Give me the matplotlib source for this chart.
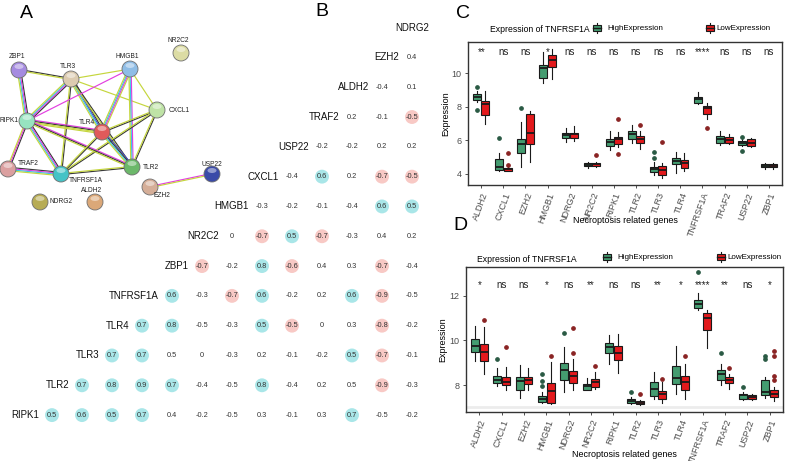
import matplotlib
matplotlib.use('Agg')
import matplotlib.pyplot as plt
from matplotlib.patches import Circle, Ellipse, Rectangle
import numpy as np

plt.rcParams['font.family'] = ['Liberation Sans', 'DejaVu Sans']

W, H = 786, 461

# ---------------- A: STRING network ----------------
node_names = ['ZBP1', 'TLR3', 'HMGB1', 'NR2C2', 'CXCL1', 'RIPK1', 'TLR4', 'TLR2',
              'TRAF2', 'TNFRSF1A', 'NDRG2', 'ALDH2', 'EZH2', 'USP22']
node_x = [19, 71, 130, 181, 157, 27, 102, 132, 8, 61, 40, 95, 150, 212]
node_y = [70, 79, 69, 53, 110, 121, 132, 167, 169, 174, 202, 202, 187, 174]
node_col = ['#a58be0', '#dccbb0', '#8fbde6', '#dcdca4', '#bfe3a6', '#97e3c0', '#e05a5a',
            '#6cb86a', '#dba0a0', '#45c3c6', '#b7ac55', '#dba878', '#d5ae98', '#3a4aa8']
lab_x = [17, 68, 127, 178, 169, 19, 87, 143, 18, 69, 50, 92, 154, 212]
lab_y = [57, 67, 57, 41, 110, 120, 122, 167, 163, 180, 201, 190, 195, 164]
lab_ha = ['center', 'center', 'center', 'center', 'left', 'right', 'center', 'left',
          'left', 'left', 'left', 'center', 'left', 'center']

edges = [
    ('ZBP1', 'TLR3', 'ky'), ('ZBP1', 'RIPK1', 'kmcy'), ('TLR3', 'HMGB1', 'y'),
    ('TLR3', 'CXCL1', 'y'), ('TLR3', 'RIPK1', 'kmcy'), ('TLR3', 'TLR4', 'kbcy'),
    ('TLR3', 'TLR2', 'ky'), ('TLR3', 'TNFRSF1A', 'ky'), ('HMGB1', 'RIPK1', 'm'),
    ('HMGB1', 'TLR4', 'ymcy'), ('HMGB1', 'TLR2', 'mcy'), ('HMGB1', 'CXCL1', 'y'),
    ('CXCL1', 'TLR4', 'ky'), ('CXCL1', 'TLR2', 'ky'), ('CXCL1', 'TNFRSF1A', 'ky'),
    ('RIPK1', 'TLR4', 'mkyy'), ('RIPK1', 'TLR2', 'mky'), ('RIPK1', 'TRAF2', 'kmy'),
    ('RIPK1', 'TNFRSF1A', 'kmcy'), ('TLR4', 'TLR2', 'bkcy'), ('TLR4', 'TNFRSF1A', 'ky'),
    ('TLR2', 'TNFRSF1A', 'ky'), ('TRAF2', 'TNFRSF1A', 'kmcy'), ('EZH2', 'USP22', 'my'),
]
edge_cols = {'k': '#3a3a3a', 'y': '#c5d63d', 'm': '#e23fe0', 'c': '#3cc6e6', 'b': '#4b4fc8'}

# ---------------- B: correlation triangle ----------------
corr_genes = ['RIPK1', 'TLR2', 'TLR3', 'TLR4', 'TNFRSF1A', 'ZBP1', 'NR2C2', 'HMGB1',
              'CXCL1', 'USP22', 'TRAF2', 'ALDH2', 'EZH2', 'NDRG2']
corr_vals = [
    [0.5, 0.6, 0.5, 0.7, 0.4, -0.2, -0.5, 0.3, -0.1, 0.3, 0.7, -0.5, -0.2],
    [0.7, 0.8, 0.9, 0.7, -0.4, -0.5, 0.8, -0.4, 0.2, 0.5, -0.9, -0.3],
    [0.7, 0.7, 0.5, 0, -0.3, 0.2, -0.1, -0.2, 0.5, -0.7, -0.1],
    [0.7, 0.8, -0.5, -0.3, 0.5, -0.5, 0, 0.3, -0.8, -0.2],
    [0.6, -0.3, -0.7, 0.6, -0.2, 0.2, 0.6, -0.9, -0.5],
    [-0.7, -0.2, 0.8, -0.6, 0.4, 0.3, -0.7, -0.4],
    [0, -0.7, 0.5, -0.7, -0.3, 0.4, 0.2],
    [-0.3, -0.2, -0.1, -0.4, 0.6, 0.5],
    [-0.4, 0.6, 0.2, -0.7, -0.5],
    [-0.2, -0.2, 0.2, 0.2],
    [0.2, -0.1, -0.5],
    [-0.4, 0.1],
    [0.4],
    [],
]
corr_sig = [
    [1, 1, 1, 1, 0, 0, 0, 0, 0, 0, 1, 0, 0],
    [1, 1, 1, 1, 0, 0, 1, 0, 0, 0, 1, 0],
    [1, 1, 0, 0, 0, 0, 0, 0, 1, 1, 0],
    [1, 1, 0, 0, 1, 1, 0, 0, 1, 0],
    [1, 0, 1, 1, 0, 0, 1, 1, 0],
    [1, 0, 1, 1, 0, 0, 1, 0],
    [0, 1, 1, 1, 0, 0, 0],
    [0, 0, 0, 0, 1, 1],
    [0, 1, 0, 1, 1],
    [0, 0, 0, 0],
    [0, 0, 1],
    [0, 0],
    [0],
    [],
]

# ---------------- C / D: boxplots ----------------
genes = ['ALDH2', 'CXCL1', 'EZH2', 'HMGB1', 'NDRG2', 'NR2C2', 'RIPK1', 'TLR2', 'TLR3',
         'TLR4', 'TNFRSF1A', 'TRAF2', 'USP22', 'ZBP1']
# each entry: whisker low, q1, median, q3, whisker high
c_high = [[8.30, 8.40, 8.56, 8.74, 8.92], [4.18, 4.22, 4.38, 4.86, 5.25], [4.42, 5.22, 5.77, 6.05, 7.10],
          [9.44, 9.70, 10.33, 10.49, 11.29], [5.87, 6.11, 6.31, 6.45, 6.71], [4.36, 4.46, 4.54, 4.62, 4.70],
          [5.41, 5.67, 5.91, 6.05, 6.57], [5.85, 6.05, 6.35, 6.57, 6.91], [3.92, 4.12, 4.26, 4.42, 4.72],
          [4.06, 4.58, 4.76, 4.92, 5.31], [8.16, 8.20, 8.44, 8.60, 8.90], [5.71, 5.81, 6.05, 6.25, 6.57],
          [5.65, 5.71, 5.85, 5.93, 6.05], [4.30, 4.38, 4.48, 4.58, 4.66]]
c_high_out = [[9.20, 7.77], [6.10], [7.90], [], [], [], [], [], [5.31, 4.92], [], [], [], [6.17, 5.37], []]
c_low = [[6.97, 7.50, 8.16, 8.36, 8.96], [4.16, 4.18, 4.26, 4.36, 4.40], [4.72, 5.77, 6.41, 7.57, 7.76],
         [9.66, 10.39, 10.79, 11.09, 11.43], [5.93, 6.15, 6.35, 6.45, 6.85], [4.38, 4.46, 4.58, 4.66, 4.72],
         [5.61, 5.77, 6.05, 6.17, 6.51], [5.49, 5.81, 6.05, 6.25, 6.57], [3.72, 3.92, 4.22, 4.46, 4.66],
         [4.18, 4.32, 4.62, 4.82, 5.25], [7.27, 7.57, 7.90, 8.04, 8.20], [5.75, 5.85, 6.01, 6.17, 6.37],
         [5.61, 5.65, 5.85, 6.05, 6.11], [4.26, 4.38, 4.48, 4.58, 4.62]]
c_low_out = [[], [5.22, 4.52], [], [], [], [5.12], [7.29, 5.17], [6.91], [5.91], [], [6.75], [], [], []]
c_sig = ['**', 'ns', 'ns', '*', 'ns', 'ns', 'ns', 'ns', 'ns', 'ns', '****', 'ns', 'ns', 'ns']

d_high = [[9.09, 9.49, 9.75, 10.06, 10.64], [7.96, 8.10, 8.25, 8.42, 8.75], [7.45, 7.81, 8.19, 8.37, 8.90],
          [7.21, 7.25, 7.40, 7.52, 7.70], [7.70, 8.22, 8.67, 9.00, 9.69], [7.78, 7.81, 7.96, 8.07, 8.34],
          [8.97, 9.45, 9.69, 9.87, 10.24], [7.18, 7.21, 7.30, 7.40, 7.48], [7.40, 7.51, 7.85, 8.15, 8.60],
          [7.60, 8.04, 8.33, 8.85, 9.75], [11.36, 11.43, 11.63, 11.78, 12.10], [8.00, 8.25, 8.49, 8.70, 8.97],
          [7.36, 7.40, 7.55, 7.63, 7.70], [7.45, 7.55, 7.70, 8.22, 8.37]]
d_high_out = [[], [9.15], [], [8.52, 8.19, 7.96], [10.34], [], [], [7.70], [], [], [13.04], [9.42], [7.93],
              [9.30, 9.19]]
d_low = [[8.49, 9.09, 9.49, 9.84, 10.58], [7.80, 8.00, 8.15, 8.37, 8.82], [7.78, 8.07, 8.22, 8.37, 8.79],
         [7.18, 7.21, 7.75, 8.10, 9.04], [7.78, 8.10, 8.40, 8.64, 9.19], [7.85, 7.93, 8.15, 8.30, 8.60],
         [8.55, 9.12, 9.45, 9.75, 10.28], [7.12, 7.15, 7.22, 7.30, 7.36], [7.21, 7.40, 7.60, 7.75, 8.15],
         [7.40, 7.78, 8.15, 8.40, 8.94], [9.64, 10.46, 10.99, 11.21, 11.36], [7.85, 8.10, 8.22, 8.37, 8.52],
         [7.33, 7.40, 7.48, 7.55, 7.63], [7.30, 7.48, 7.63, 7.78, 7.93]]
d_low_out = [[10.91], [9.72], [], [9.30], [10.57, 9.46], [8.85], [], [7.63], [8.30], [9.30], [], [8.75], [],
             [9.54, 9.30, 8.40, 8.22]]
d_sig = ['*', 'ns', 'ns', '*', 'ns', '**', 'ns', 'ns', '**', '*', '****', '**', 'ns', '*']

GREEN, GREEN_D = '#449c70', '#2a5a44'
RED, RED_D = '#e3191c', '#8a2424'


def draw_edge(ax, p, q, cols):
    d = np.array(q, float) - np.array(p, float)
    n = np.array([-d[1], d[0]]) / np.hypot(*d)
    for i, c in enumerate(cols):
        o = (i - (len(cols) - 1) / 2) * 1.15 * n
        ax.plot([p[0] + o[0], q[0] + o[0]], [p[1] + o[1], q[1] + o[1]],
                color=edge_cols[c], lw=0.85, solid_capstyle='butt', zorder=1)


def draw_box(ax, high, high_out, low, low_out, sig, ylim, yticks, sig_y, xlab_y, ylab_x):
    pos = np.arange(len(genes))
    for st5, outs, off, fc, oc in [(high, high_out, -0.19, GREEN, GREEN_D),
                                   (low, low_out, 0.19, RED, RED_D)]:
        st = [dict(whislo=s[0], q1=s[1], med=s[2], q3=s[3], whishi=s[4], fliers=o)
              for s, o in zip(st5, outs)]
        ax.bxp(st, positions=pos + off, widths=0.36, patch_artist=True, showcaps=False,
               manage_ticks=False,
               boxprops=dict(facecolor=fc, edgecolor='#1a1a1a', linewidth=0.8),
               medianprops=dict(color='#1a1a1a', linewidth=1.3),
               whiskerprops=dict(color='#1a1a1a', linewidth=0.8),
               flierprops=dict(marker='o', markersize=2.4, markerfacecolor=oc,
                               markeredgecolor=oc, linestyle='none'))
    for i, s in enumerate(sig):
        ax.text(i, sig_y, s, ha='center', va='center', fontsize=7, color='#222222')
    ax.set_xlim(-0.6, len(genes) - 0.4)
    ax.set_ylim(*ylim)
    ax.set_yticks(yticks)
    ax.set_xticks(pos)
    ax.set_xticklabels(genes, rotation=70, ha='right', va='top', rotation_mode='anchor')
    ax.tick_params(labelsize=6.5, labelcolor='#4d4d4d', color='#333333', length=2.5, width=0.6, pad=2)
    for sp in ax.spines.values():
        sp.set_color('#333333')
        sp.set_linewidth(1.0)
    ax.set_xlabel('Necroptosis related genes', fontsize=6.5)
    ax.set_ylabel('Expression', fontsize=6.5)
    ax.xaxis.set_label_coords(0.5, xlab_y)
    ax.yaxis.set_label_coords(ylab_x, 0.5)


def legend_key(ax, x, y, fc):
    ax.plot([x, x], [y - 5, y + 5], color='#1a1a1a', lw=0.8)
    ax.add_patch(Rectangle((x - 4, y - 3), 8, 6, facecolor=fc, edgecolor='#1a1a1a', lw=0.8, zorder=3))
    ax.plot([x - 4, x + 4], [y, y], color='#1a1a1a', lw=1.0, zorder=4)


def main():
    fig = plt.figure(figsize=(W / 100, H / 100), dpi=100)
    ax0 = fig.add_axes([0, 0, 1, 1])
    ax0.set_xlim(0, W)
    ax0.set_ylim(H, 0)
    ax0.axis('off')

    # network
    pos = {n: (x, y) for n, x, y in zip(node_names, node_x, node_y)}
    for a, b, cols in edges:
        draw_edge(ax0, pos[a], pos[b], cols)
    for n, x, y, c in zip(node_names, node_x, node_y, node_col):
        ax0.add_patch(Circle((x, y), 8, facecolor=c, edgecolor='#6e6e6e', lw=0.6, zorder=3))
        ax0.add_patch(Ellipse((x, y - 3.5), 9, 5, facecolor='white', alpha=0.45, lw=0, zorder=4))
    for n, x, y, ha in zip(node_names, lab_x, lab_y, lab_ha):
        ax0.text(x, y, n, ha=ha, va='center', fontsize=4.8, color='#222222', zorder=5)

    # panel letters
    for t, x, y in [('A', 26, 13), ('B', 322, 12), ('C', 463, 13), ('D', 460, 225)]:
        ax0.text(x, y, t, ha='center', va='center', fontsize=14)

    # legends for C and D
    ax0.text(490, 29, 'Expression of TNFRSF1A', ha='left', va='center', fontsize=6.2)
    legend_key(ax0, 597, 28, GREEN)
    ax0.text(607, 28, 'HighExpression', ha='left', va='center', fontsize=5.8)
    legend_key(ax0, 710, 28, RED)
    ax0.text(716, 28, 'LowExpression', ha='left', va='center', fontsize=5.8)

    ax0.text(477, 259, 'Expression of TNFRSF1A', ha='left', va='center', fontsize=6.2)
    legend_key(ax0, 607, 257, GREEN)
    ax0.text(617, 257, 'HighExpression', ha='left', va='center', fontsize=5.8)
    legend_key(ax0, 721, 257, RED)
    ax0.text(727, 257, 'LowExpression', ha='left', va='center', fontsize=5.8)

    # correlation triangle
    axB = fig.add_axes([37 / W, (H - 430) / H, 390 / W, 417.3 / H])
    axB.set_xlim(-0.5, 12.5)
    axB.set_ylim(-0.5, 13.5)
    axB.axis('off')
    axB.patch.set_alpha(0)
    for r, (g, vals, sig) in enumerate(zip(corr_genes, corr_vals, corr_sig)):
        axB.text(r - 0.43, r, g, ha='right', va='center', fontsize=7, color='#111111')
        for j, (v, s) in enumerate(zip(vals, sig)):
            k = r + j
            if s:
                axB.scatter([k], [r], s=100, color='#a9e6e8' if v > 0 else '#f8c9c5',
                            edgecolors='none', zorder=1)
            axB.text(k, r, '0' if v == 0 else '%.1f' % v, ha='center', va='center',
                     fontsize=5.3, color='#333333', zorder=2)

    axC = fig.add_axes([468 / W, (H - 185) / H, 314 / W, 143 / H])
    draw_box(axC, c_high, c_high_out, c_low, c_low_out, c_sig, (3.32, 11.86), [4, 6, 8, 10], 11.28,
             -0.22, -0.057)

    axD = fig.add_axes([466 / W, (H - 412) / H, 317 / W, 145 / H])
    axD.axhline(7.03, color='#ececec', lw=2.0, zorder=0)
    draw_box(axD, d_high, d_high_out, d_low, d_low_out, d_sig, (6.81, 13.27), [8, 10, 12], 12.45,
             -0.265, -0.06)

    fig.savefig('out.png', dpi=100)
    plt.close(fig)


if __name__ == '__main__':
    main()
